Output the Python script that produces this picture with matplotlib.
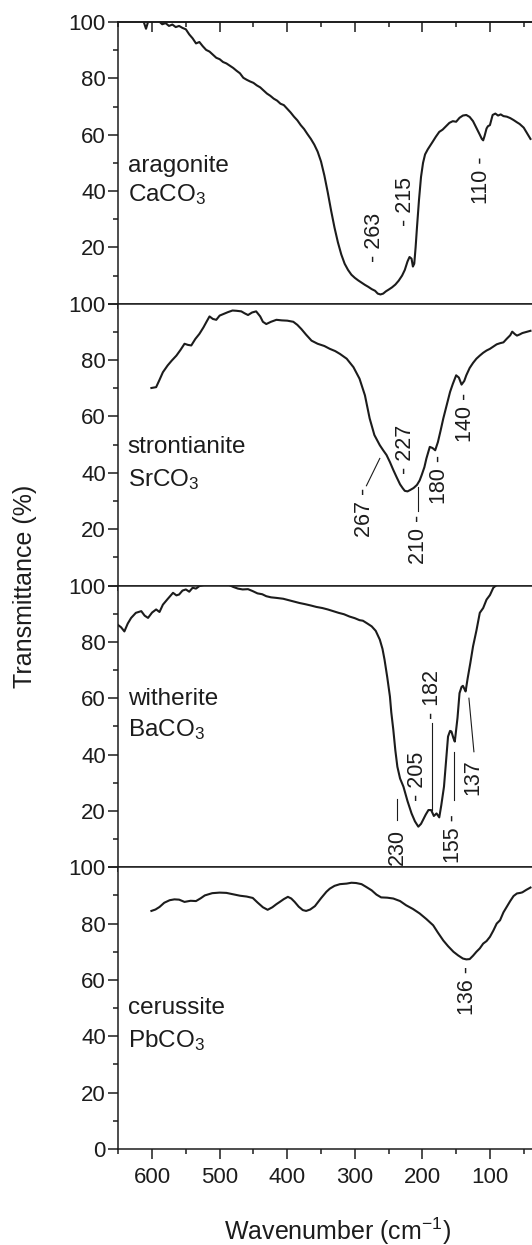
import matplotlib
matplotlib.use('Agg')
import matplotlib.pyplot as plt
from matplotlib.ticker import MultipleLocator, FixedLocator

plt.rcParams['font.family'] = ['Liberation Sans', 'DejaVu Sans']
plt.rcParams['mathtext.default'] = 'regular'

# ---- spectra (wavenumber cm-1, transmittance %) ----
arag_x = [613, 609, 605, 600, 595, 590, 585, 580, 575, 570, 565, 560, 555, 550, 545,
          540, 535, 530, 525, 520, 515, 510, 505, 500, 495, 490, 485, 480, 475, 470,
          465, 460, 455, 450, 445, 440, 435, 430, 425, 420, 415, 410, 405, 400, 395,
          390, 385, 380, 375, 370, 365, 360, 355, 350, 345, 340, 335, 330, 325, 320,
          315, 310, 305, 300, 295, 290, 285, 280, 275, 270, 266, 262, 258, 254, 250,
          245, 240, 235, 230, 226, 222, 219, 216, 214, 212, 210, 208, 205, 202, 199,
          196, 192, 185, 180, 175, 170, 165, 160, 155, 150, 145, 140, 135, 130, 125,
          120, 115, 112, 110, 108, 105, 103, 100, 96, 92, 88, 84, 80, 75, 70, 65, 60,
          56, 50, 45, 40]
arag_y = [100.5, 97.6, 100.8, 100.2, 101, 100.3, 99.2, 99.6, 98.6, 99.1, 98.2, 98.6,
          97.9, 97.4, 95.6, 94.2, 92.4, 92.9, 91.4, 90.1, 89.5, 88.4, 87.3, 86.8, 85.8,
          85.3, 84.5, 83.7, 82.7, 81.8, 80.2, 79.5, 78.9, 78.4, 77.5, 76.8, 75.7, 74.6,
          73.8, 72.8, 72.1, 71.0, 70.5, 69.2, 67.9, 66.4, 65.1, 63.4, 62.0, 60.2, 58.5,
          56.5, 54.0, 50.5, 45.5, 39.5, 33.0, 27.0, 21.8, 17.5, 14.2, 12.0, 10.3, 9.2,
          8.3, 7.5, 6.7, 6.0, 5.2, 4.6, 3.6, 3.3, 3.6, 4.4, 5.0, 5.8, 6.8, 8.2, 10.0,
          12.0, 15.0, 16.6, 16.0, 13.2, 14.2, 20.0, 27.0, 36.8, 45.0, 50.0, 53.0, 54.8,
          57.4, 59.3, 61.0, 61.8, 63.0, 64.2, 64.8, 64.6, 66.0, 66.8, 67.0, 66.3, 64.8,
          62.4, 60.0, 58.5, 58.0, 59.5, 62.2, 63.0, 63.4, 67.0, 67.5, 66.8, 67.2, 66.6,
          66.4, 65.9, 65.2, 64.4, 63.8, 62.5, 60.5, 58.5]

stron_x = [601, 594, 589, 584, 577, 571, 564, 558, 552, 547, 542, 536, 530, 524, 519,
           515, 510, 505, 500, 495, 488, 481, 475, 468, 463, 458, 452, 446, 440, 436,
           431, 424, 416, 408, 400, 391, 385, 379, 372, 364, 355, 345, 337, 329, 322,
           312, 302, 293, 285, 278, 271, 263, 258, 253, 248, 243, 238, 233, 229, 226,
           222, 218, 213, 208, 204, 201, 197, 194, 189, 185, 181, 177, 173, 169, 164,
           159, 155, 150, 146, 142, 138, 135, 130, 125, 120, 115, 110, 105, 100, 95,
           90, 85, 80, 75, 70, 67, 63, 60, 56, 52, 46, 40]
stron_y = [70.1, 70.4, 73.0, 75.7, 78.1, 79.8, 81.6, 83.6, 85.8, 85.4, 85.2, 87.5,
           89.3, 91.6, 93.8, 95.5, 94.6, 94.3, 95.8, 96.3, 97.0, 97.6, 97.5, 97.3, 96.6,
           96.0, 96.9, 97.3, 95.5, 93.6, 92.8, 93.6, 94.3, 94.1, 94.0, 93.6, 92.5, 91.0,
           89.0, 86.9, 85.8, 85.0, 84.0, 83.2, 82.2, 80.5, 77.5, 73.4, 67.5, 59.3, 53.4,
           49.8, 48.0, 46.3, 43.8, 41.0, 38.4, 35.9, 34.5, 33.6, 33.4, 33.9, 34.6, 35.7,
           37.3, 39.2, 42.0, 45.1, 49.2, 48.8, 48.0, 50.9, 55.0, 59.3, 64.0, 68.7, 71.5,
           74.6, 73.8, 71.3, 72.6, 74.6, 77.2, 79.0, 80.5, 81.6, 82.6, 83.4, 84.0, 84.8,
           85.6, 86.0, 86.3, 87.6, 88.8, 90.1, 89.2, 88.7, 89.1, 89.6, 90.0, 90.4]

wither_x = [651, 646, 641, 636, 631, 624, 616, 611, 606, 600, 594, 589, 584, 577, 569,
            564, 560, 555, 550, 545, 540, 535, 530, 520, 510, 503, 495, 488, 480, 473,
            466, 458, 451, 444, 437, 431, 424, 416, 406, 398, 390, 382, 374, 365, 357,
            348, 340, 332, 324, 316, 308, 300, 293, 288, 282, 275, 269, 263, 259, 256,
            252, 248, 246, 243, 240, 237, 233, 228, 222, 216, 211, 206, 202, 199, 195,
            191, 187, 183, 179, 175, 172, 168, 165, 162, 159, 157, 154, 152, 148, 145,
            142, 140, 138, 136, 133, 129, 125, 120, 115, 110, 105, 100, 95, 90, 85, 80,
            70, 60, 50, 40]
wither_y = [86.1, 85.2, 83.7, 86.5, 88.5, 90.3, 90.9, 89.3, 88.5, 90.4, 91.5, 90.6,
            93.2, 95.2, 97.4, 96.5, 96.8, 98.2, 98.6, 97.8, 99.2, 98.9, 99.8, 100.4,
            100.7, 100.2, 100.7, 100.4, 99.5, 98.9, 98.6, 98.7, 98.0, 97.2, 96.9, 96.2,
            95.8, 95.6, 95.3, 94.8, 94.3, 93.8, 93.4, 92.9, 92.4, 92.0, 91.5, 90.9,
            90.3, 89.8, 89.0, 88.4, 87.7, 87.5, 86.6, 85.5, 83.9, 80.8, 77.5, 73.7,
            67.5, 60.6, 55.0, 48.8, 41.5, 35.7, 31.5, 28.6, 23.5, 19.1, 16.3, 14.4, 15.4,
            16.8, 18.7, 20.3, 20.3, 18.2, 19.1, 17.7, 22.0, 28.6, 37.5, 46.4, 48.4, 48.2,
            45.8, 44.6, 53.0, 61.8, 64.0, 64.4, 63.4, 62.4, 67.0, 72.5, 78.4, 84.0, 90.3,
            92.0, 95.0, 96.6, 99.2, 100.2, 101.0, 102.0, 103.5, 105.0, 106.0, 107.0]

ceru_x = [601, 595, 589, 582, 574, 567, 560, 552, 543, 535, 528, 522, 511, 500, 490,
          480, 470, 460, 451, 444, 436, 429, 422, 416, 411, 405, 399, 394, 389, 383,
          377, 372, 366, 359, 350, 342, 337, 330, 322, 312, 305, 298, 290, 283, 275,
          268, 261, 252, 243, 233, 224, 214, 204, 194, 184, 177, 169, 162, 154, 147,
          140, 135, 130, 125, 120, 115, 110, 105, 100, 95, 90, 85, 80, 75, 70, 65,
          60, 55, 52, 46, 40]
ceru_y = [84.5, 85.0, 85.9, 87.4, 88.3, 88.6, 88.5, 87.7, 88.1, 88.0, 89.0, 90.0,
          90.8, 91.0, 90.9, 90.4, 89.9, 89.6, 89.1, 87.5, 85.8, 84.9, 85.8, 86.9, 87.7,
          88.7, 89.5, 88.9, 87.7, 86.0, 84.8, 84.5, 85.0, 86.2, 89.0, 91.3, 92.4, 93.4,
          94.0, 94.2, 94.5, 94.4, 94.0, 93.0, 91.8, 90.3, 89.3, 89.2, 88.9, 88.0, 86.5,
          85.2, 83.6, 81.6, 79.4, 76.8, 74.0, 72.0, 70.0, 68.7, 67.6, 67.3, 67.4, 68.6,
          70.0, 71.2, 72.9, 73.8, 75.3, 77.5, 80.0, 81.2, 84.0, 86.0, 88.0, 89.8, 90.7,
          90.9, 91.1, 92.0, 92.8]

# ---- sample names ----
names = ['aragonite', 'strontianite', 'witherite', 'cerussite']
formulas = ['CaCO$_3$', 'SrCO$_3$', 'BaCO$_3$', 'PbCO$_3$']
name_y = [46.9, 46.9, 57.6, 47.9]
formula_y = [36.3, 35.4, 46.4, 36.3]

# ---- peak labels (text, wavenumber, transmittance of label centre) ----
arag_peaks = ['- 263', '- 215', '110 -']
arag_peak_x = [271, 225, 113]
arag_peak_y = [23.4, 36.3, 44.0]

stron_peaks = ['267 -', '- 227', '210 -', '180 -', '140 -']
stron_peak_x = [285, 224.5, 206, 175, 135.6]
stron_peak_y = [26.0, 48.4, 16.3, 37.8, 59.8]
stron_leaders = [([282.8, 263.0], [35.4, 45.1]), ([206.0, 206.0], [26.3, 35.1])]

wither_peaks = ['230', '- 205', '- 182', '155 -', '137']
wither_peak_x = [237.4, 207.2, 185.5, 153.4, 125.7]
wither_peak_y = [7.2, 32.4, 61.2, 10.2, 32.1]
wither_leaders = [([237.4, 237.4], [16.7, 24.4]), ([185.8, 185.8], [20.3, 51.1]),
                  ([153.4, 153.4], [23.8, 41.0]), ([131.1, 123.7], [60.0, 41.0])]

ceru_peaks = ['136 -']
ceru_peak_x = [133.6]
ceru_peak_y = [56.4]

xticks = [600, 500, 400, 300, 200, 100]
xminor = [650, 550, 450, 350, 250, 150, 50]

panels = [
    (arag_x, arag_y, arag_peaks, arag_peak_x, arag_peak_y, []),
    (stron_x, stron_y, stron_peaks, stron_peak_x, stron_peak_y, stron_leaders),
    (wither_x, wither_y, wither_peaks, wither_peak_x, wither_peak_y, wither_leaders),
    (ceru_x, ceru_y, ceru_peaks, ceru_peak_x, ceru_peak_y, []),
]

ink = '#1c1c1c'
W, H = 532.0, 1245.0
left = 118.3 / W
width = (557.5 - 118.3) / W
top0 = 22.0
ph = 281.75

fig = plt.figure(figsize=(W / 100, H / 100), dpi=100)

for i, (xs, ys, plab, plx, ply, leaders) in enumerate(panels):
    top = top0 + i * ph
    ax = fig.add_axes([left, 1 - (top + ph) / H, width, ph / H])
    ax.plot(xs, ys, color=ink, lw=1.5)
    for (lx, ly) in leaders:
        ax.plot(lx, ly, color=ink, lw=0.8)
    for t, tx, ty in zip(plab, plx, ply):
        ax.text(tx, ty, t, rotation=90, ha='center', va='center', fontsize=15.5, color=ink)
    ax.text(636, name_y[i], names[i], ha='left', va='baseline', fontsize=17.5, color=ink)
    ax.text(636, formula_y[i], formulas[i], ha='left', va='baseline', fontsize=17.5, color=ink)

    ax.set_xlim(650, 0)
    ax.set_ylim(0, 100)
    ax.set_xticks(xticks)
    ax.xaxis.set_minor_locator(FixedLocator(xminor))
    ax.set_yticks([0, 20, 40, 60, 80, 100])
    ax.yaxis.set_minor_locator(MultipleLocator(10))
    if i < 3:
        ax.set_yticklabels(['', '20', '40', '60', '80', '100'])
        ax.tick_params(axis='x', labelbottom=False)
    for s in ax.spines.values():
        s.set_linewidth(1.1)
        s.set_color(ink)
    ax.tick_params(axis='both', which='both', direction='out', color=ink, width=1.1,
                   labelsize=16, labelcolor=ink)
    ax.tick_params(axis='both', which='major', length=7)
    ax.tick_params(axis='both', which='minor', length=3.5)
    ax.tick_params(axis='y', pad=2)
    ax.tick_params(axis='x', pad=6)
    if i == 0:
        sec = ax.secondary_xaxis('top')
        sec.set_xticks(xticks)
        sec.xaxis.set_minor_locator(FixedLocator(xminor))
        sec.tick_params(axis='x', which='both', direction='in', labeltop=False,
                        color=ink, width=1.1)
        sec.tick_params(axis='x', which='major', length=7)
        sec.tick_params(axis='x', which='minor', length=3.5)
        sec.spines['top'].set_linewidth(1.1)

fig.text(25 / W, 1 - 586 / H, 'Transmittance (%)', rotation=90, ha='center', va='center',
         fontsize=18, color=ink)
fig.text((118.3 + 557.5) / 2 / W, 1 - 1240 / H, 'Wavenumber (cm$^{-1}$)', ha='center',
         va='baseline', fontsize=18, color=ink)

fig.savefig('out.png', dpi=100)
